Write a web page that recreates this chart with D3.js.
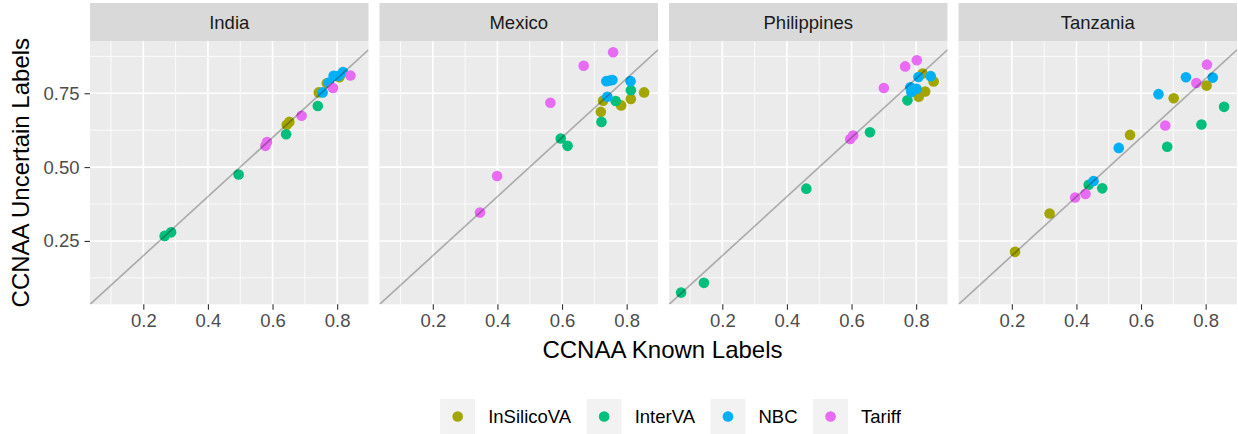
<!DOCTYPE html>
<html>
<head>
<meta charset="utf-8">
<script src="https://cdn.jsdelivr.net/npm/d3@7"></script>
<style>
  html, body { margin: 0; padding: 0; background: #ffffff; }
  svg { display: block; font-family: "Liberation Sans", Arial, Helvetica, sans-serif; }
</style>
</head>
<body>
<svg id="chart" width="1238" height="434"></svg>
<script>
// ---------------- data ----------------
const countries = ["India", "Mexico", "Philippines", "Tanzania"];
const methods = ["InSilicoVA", "InterVA", "NBC", "Tariff"];
const methodColors = ["#A3A500", "#00BF7D", "#00B0F6", "#E76BF3"];
const xTicks = [0.2, 0.4, 0.6, 0.8];
const yTicks = [0.25, 0.50, 0.75];
const xMinor = [0.1, 0.3, 0.5, 0.7];
const yMinor = [0.125, 0.375, 0.625, 0.875];

// values ordered: 5 InSilicoVA, 5 InterVA, 5 NBC, 5 Tariff
const pointMethod = ["InSilicoVA","InSilicoVA","InSilicoVA","InSilicoVA","InSilicoVA",
  "InterVA","InterVA","InterVA","InterVA","InterVA",
  "NBC","NBC","NBC","NBC","NBC",
  "Tariff","Tariff","Tariff","Tariff","Tariff"];

const indiaKnown =     [0.644,0.652,0.743,0.768,0.807, 0.266,0.286,0.495,0.642,0.740, 0.755,0.774,0.789,0.804,0.818, 0.578,0.583,0.690,0.787,0.841];
const indiaUncertain = [0.643,0.653,0.753,0.784,0.804, 0.267,0.279,0.475,0.611,0.707, 0.753,0.786,0.809,0.809,0.822, 0.572,0.585,0.674,0.768,0.810];

const mexicoKnown =     [0.720,0.727,0.783,0.813,0.854, 0.596,0.617,0.722,0.766,0.813, 0.740,0.737,0.748,0.756,0.812, 0.346,0.399,0.564,0.667,0.758];
const mexicoUncertain = [0.687,0.725,0.709,0.731,0.753, 0.597,0.572,0.653,0.724,0.760, 0.738,0.791,0.793,0.795,0.791, 0.346,0.470,0.718,0.843,0.889];

const philippinesKnown =     [0.801,0.808,0.820,0.828,0.854, 0.0725,0.143,0.460,0.657,0.773, 0.782,0.785,0.801,0.807,0.845, 0.596,0.605,0.700,0.766,0.802];
const philippinesUncertain = [0.759,0.738,0.817,0.756,0.790, 0.075,0.108,0.427,0.618,0.726, 0.770,0.754,0.765,0.805,0.808, 0.595,0.607,0.768,0.841,0.862];

const tanzaniaKnown =     [0.210,0.317,0.566,0.701,0.803, 0.438,0.480,0.681,0.787,0.857, 0.453,0.531,0.654,0.739,0.822, 0.396,0.428,0.675,0.771,0.804];
const tanzaniaUncertain = [0.213,0.343,0.609,0.733,0.776, 0.440,0.428,0.569,0.644,0.704, 0.453,0.565,0.747,0.804,0.803, 0.397,0.409,0.641,0.785,0.847];

const knownByCountry = [indiaKnown, mexicoKnown, philippinesKnown, tanzaniaKnown];
const uncertainByCountry = [indiaUncertain, mexicoUncertain, philippinesUncertain, tanzaniaUncertain];

// ---------------- layout ----------------
const svg = d3.select("#chart");
const panelLeft = 90, panelRight = 1237, panelGap = 11;
const panelW = (panelRight - panelLeft - 3 * panelGap) / 4;
const stripTop = 3, stripBottom = 41, panelTop = 41, panelBottom = 304.3;

const x = d3.scaleLinear().domain([0.035, 0.897]).range([0, panelW]);
const y = d3.scaleLinear().domain([0.0354, 0.927]).range([panelBottom, panelTop]);
const color = d3.scaleOrdinal().domain(methods).range(methodColors);

const tickFont = 18.5;

countries.forEach((country, ci) => {
  const px = panelLeft + ci * (panelW + panelGap);
  const g = svg.append("g").attr("transform", `translate(${px},0)`);

  // strip
  g.append("rect").attr("x", 0).attr("y", stripTop).attr("width", panelW)
    .attr("height", stripBottom - stripTop).attr("fill", "#D9D9D9");
  g.append("text").attr("x", panelW / 2).attr("y", (stripTop + stripBottom) / 2)
    .attr("dy", "0.36em").attr("text-anchor", "middle")
    .attr("font-size", tickFont).attr("fill", "#1A1A1A").text(country);

  // panel background
  g.append("rect").attr("x", 0).attr("y", panelTop).attr("width", panelW)
    .attr("height", panelBottom - panelTop).attr("fill", "#EBEBEB");

  const clipId = "clip" + ci;
  g.append("clipPath").attr("id", clipId).append("rect")
    .attr("x", 0).attr("y", panelTop).attr("width", panelW).attr("height", panelBottom - panelTop);

  // gridlines
  g.selectAll(".vminor").data(xMinor).join("line")
    .attr("x1", d => x(d)).attr("x2", d => x(d)).attr("y1", panelTop).attr("y2", panelBottom)
    .attr("stroke", "#ffffff").attr("stroke-width", 0.8);
  g.selectAll(".hminor").data(yMinor).join("line")
    .attr("x1", 0).attr("x2", panelW).attr("y1", d => y(d)).attr("y2", d => y(d))
    .attr("stroke", "#ffffff").attr("stroke-width", 0.8);
  g.selectAll(".vmajor").data(xTicks).join("line")
    .attr("x1", d => x(d)).attr("x2", d => x(d)).attr("y1", panelTop).attr("y2", panelBottom)
    .attr("stroke", "#ffffff").attr("stroke-width", 1.6);
  g.selectAll(".hmajor").data(yTicks).join("line")
    .attr("x1", 0).attr("x2", panelW).attr("y1", d => y(d)).attr("y2", d => y(d))
    .attr("stroke", "#ffffff").attr("stroke-width", 1.6);

  // points
  const xs = knownByCountry[ci], ys = uncertainByCountry[ci];
  const pts = xs.map((v, i) => ({ k: v, u: ys[i], m: pointMethod[i] }));
  g.append("g").attr("clip-path", `url(#${clipId})`)
    .selectAll("circle").data(pts).join("circle")
    .attr("cx", d => x(d.k)).attr("cy", d => y(d.u)).attr("r", 5.3)
    .attr("fill", d => color(d.m));

  // identity line
  const dom = x.domain();
  g.append("g").attr("clip-path", `url(#${clipId})`).append("line")
    .attr("x1", x(dom[0])).attr("y1", y(dom[0]))
    .attr("x2", x(dom[1])).attr("y2", y(dom[1]))
    .attr("stroke", "#000000").attr("stroke-opacity", 0.27).attr("stroke-width", 1.7);

  // x axis
  const xAxis = d3.axisBottom(x).tickValues(xTicks).tickFormat(d3.format(".1f")).tickSize(5.5).tickPadding(4);
  const xa = g.append("g").attr("transform", `translate(0,${panelBottom})`).call(xAxis);
  xa.select(".domain").remove();
  xa.selectAll(".tick line").attr("stroke", "#333333").attr("stroke-width", 1.1);
  xa.selectAll(".tick text").attr("fill", "#4D4D4D").attr("font-size", tickFont)
    .attr("font-family", "Liberation Sans, Arial, sans-serif");

  // y axis only on first panel
  if (ci === 0) {
    const yAxis = d3.axisLeft(y).tickValues(yTicks).tickFormat(d3.format(".2f")).tickSize(5.5).tickPadding(5);
    const ya = g.append("g").call(yAxis);
    ya.select(".domain").remove();
    ya.selectAll(".tick line").attr("stroke", "#333333").attr("stroke-width", 1.1);
    ya.selectAll(".tick text").attr("fill", "#4D4D4D").attr("font-size", tickFont)
      .attr("font-family", "Liberation Sans, Arial, sans-serif");
  }
});

// axis titles
svg.append("text").attr("x", (panelLeft + panelRight) / 2 - 1).attr("y", 358)
  .attr("text-anchor", "middle").attr("font-size", 24).attr("fill", "#000000")
  .text("CCNAA Known Labels");
svg.append("text")
  .attr("transform", `translate(29,${(panelTop + panelBottom) / 2}) rotate(-90)`)
  .attr("text-anchor", "middle").attr("font-size", 24).attr("fill", "#000000")
  .text("CCNAA Uncertain Labels");

// legend
const keySize = 35, keyTextGap = 13, itemGap = 15.5, legendY = 399;
const legend = svg.append("g");
const tmp = svg.append("text").attr("font-size", tickFont);
const widths = methods.map(m => { tmp.text(m); return tmp.node().getComputedTextLength(); });
tmp.remove();
const total = d3.sum(widths) + methods.length * (keySize + keyTextGap) + (methods.length - 1) * itemGap;
let lx = 670.5 - total / 2;
methods.forEach((m, i) => {
  legend.append("rect").attr("x", lx).attr("y", legendY).attr("width", keySize).attr("height", keySize)
    .attr("fill", "#F2F2F2");
  legend.append("circle").attr("cx", lx + keySize / 2).attr("cy", legendY + keySize / 2).attr("r", 5.3)
    .attr("fill", color(m));
  legend.append("text").attr("x", lx + keySize + keyTextGap).attr("y", legendY + keySize / 2)
    .attr("dy", "0.36em").attr("font-size", tickFont).attr("fill", "#000000").text(m);
  lx += keySize + keyTextGap + widths[i] + itemGap;
});
</script>
</body>
</html>
